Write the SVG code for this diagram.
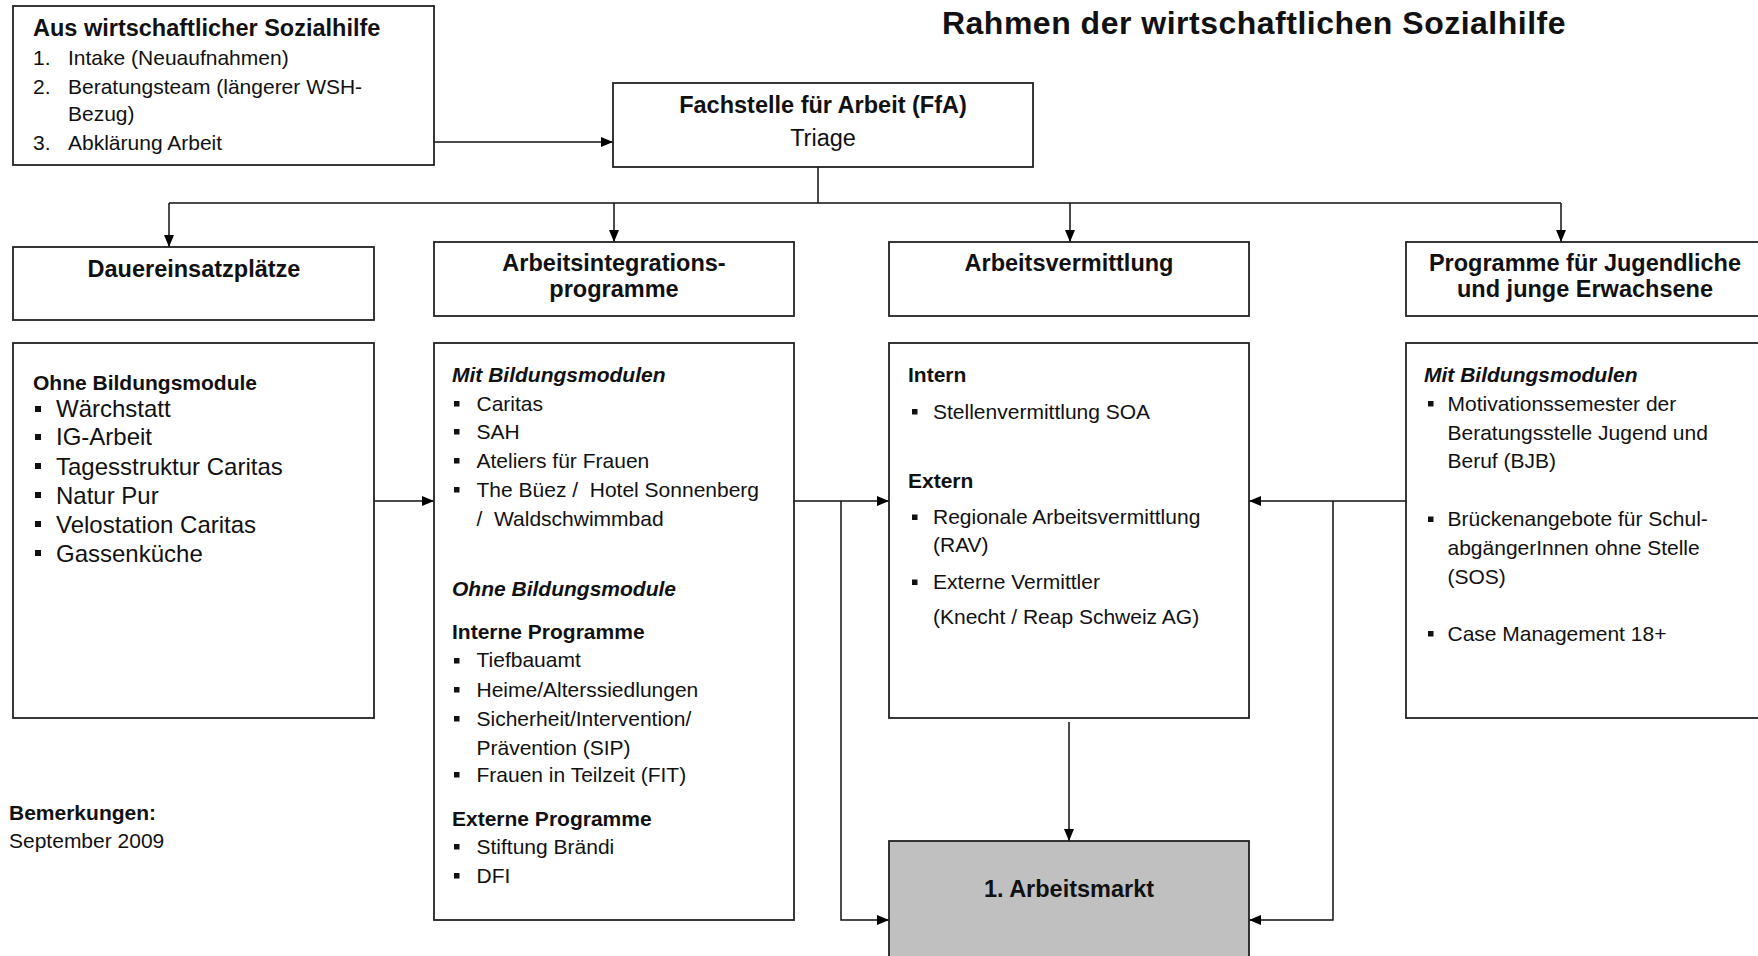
<svg xmlns="http://www.w3.org/2000/svg" width="1758" height="956" viewBox="0 0 1758 956">
<defs>
<marker id="arr" markerUnits="userSpaceOnUse" markerWidth="12" markerHeight="10" refX="12" refY="5" orient="auto">
<path d="M0,0 L12,5 L0,10 z" fill="#000"/>
</marker>
<style>
text{font-family:"Liberation Sans",Arial,sans-serif;fill:#111}
.box{fill:#fff;stroke:#222;stroke-width:1.8}
.grey{fill:#c0c0c0;stroke:#222;stroke-width:1.8}
.conn{fill:none;stroke:#111;stroke-width:1.5;marker-end:url(#arr)}
.line{fill:none;stroke:#111;stroke-width:1.5}
.h{font-weight:bold;font-size:23.5px;text-anchor:middle}
.b{font-weight:bold;font-size:21px}
.bi{font-weight:bold;font-style:italic;font-size:21px}
.t{font-size:21px}
.tl{font-size:24px}
.bul{fill:#111}
</style>
</defs>

<text id="title" x="1254" y="34" style="font-weight:bold;font-size:32px;text-anchor:middle;letter-spacing:0.5px">Rahmen der wirtschaftlichen Sozialhilfe</text>

<g id="connectors">
<path class="conn" d="M434,142 H613"/>
<path class="line" d="M818,167 V203 M169,203 H1561"/>
<path class="conn" d="M169,203 V247"/>
<path class="conn" d="M614,203 V242"/>
<path class="conn" d="M1070,203 V242"/>
<path class="conn" d="M1561,203 V242"/>
<path class="conn" d="M374,501 H434"/>
<path class="conn" d="M794,501 H889"/>
<path class="conn" d="M841,501 V920 H889"/>
<path class="conn" d="M1406,501 H1249"/>
<path class="conn" d="M1333,501 V920 H1249"/>
<path class="conn" d="M1069,722 V841"/>
</g>

<g id="sozialhilfe">
<rect class="box" x="13" y="6" width="421" height="159"/>
<text x="33" y="35.5" style="font-weight:bold;font-size:23.5px">Aus wirtschaftlicher Sozialhilfe</text>
<text class="t" x="33" y="64.7">1.</text><text class="t" x="68" y="64.7">Intake (Neuaufnahmen)</text>
<text class="t" x="33" y="93.8">2.</text><text class="t" x="68" y="93.8">Beratungsteam (längerer WSH-</text>
<text class="t" x="68" y="120.7">Bezug)</text>
<text class="t" x="33" y="149.9">3.</text><text class="t" x="68" y="149.9">Abklärung Arbeit</text>
</g>

<g id="ffa">
<rect class="box" x="613" y="83" width="420" height="84"/>
<text class="h" x="823" y="113">Fachstelle für Arbeit (FfA)</text>
<text x="823" y="146" style="font-size:23.5px;text-anchor:middle">Triage</text>
</g>

<g id="dauer-head">
<rect class="box" x="13" y="247" width="361" height="73"/>
<text class="h" x="194" y="277">Dauereinsatzplätze</text>
</g>

<g id="aip-head">
<rect class="box" x="434" y="242" width="360" height="74"/>
<text class="h" x="614" y="271">Arbeitsintegrations-</text>
<text class="h" x="614" y="297">programme</text>
</g>

<g id="av-head">
<rect class="box" x="889" y="242" width="360" height="74"/>
<text class="h" x="1069" y="271">Arbeitsvermittlung</text>
</g>

<g id="jug-head">
<rect class="box" x="1406" y="242" width="400" height="74"/>
<text class="h" x="1585" y="271">Programme für Jugendliche</text>
<text class="h" x="1585" y="297">und junge Erwachsene</text>
</g>

<g id="dauer">
<rect class="box" x="13" y="343" width="361" height="375"/>
<text class="b" x="33" y="390">Ohne Bildungsmodule</text>
<rect class="bul" x="35" y="406" width="6" height="6"/><text class="tl" x="56" y="417">Wärchstatt</text>
<rect class="bul" x="35" y="434" width="6" height="6"/><text class="tl" x="56" y="445">IG-Arbeit</text>
<rect class="bul" x="35" y="463" width="6" height="6"/><text class="tl" x="56" y="474.5">Tagesstruktur Caritas</text>
<rect class="bul" x="35" y="492" width="6" height="6"/><text class="tl" x="56" y="503.5">Natur Pur</text>
<rect class="bul" x="35" y="521" width="6" height="6"/><text class="tl" x="56" y="533">Velostation Caritas</text>
<rect class="bul" x="35" y="550" width="6" height="6"/><text class="tl" x="56" y="562">Gassenküche</text>
</g>

<g id="aip">
<rect class="box" x="434" y="343" width="360" height="577"/>
<text class="bi" x="452" y="381.5">Mit Bildungsmodulen</text>
<rect class="bul" x="454" y="401" width="5.5" height="5.5"/><text class="t" x="476.5" y="410.6">Caritas</text>
<rect class="bul" x="454" y="429" width="5.5" height="5.5"/><text class="t" x="476.5" y="438.7">SAH</text>
<rect class="bul" x="454" y="458" width="5.5" height="5.5"/><text class="t" x="476.5" y="467.8">Ateliers für Frauen</text>
<rect class="bul" x="454" y="487" width="5.5" height="5.5"/><text class="t" x="476.5" y="497" xml:space="preserve">The Büez /  Hotel Sonnenberg</text>
<text class="t" x="476.5" y="526" xml:space="preserve">/  Waldschwimmbad</text>
<text class="bi" x="452" y="595.6">Ohne Bildungsmodule</text>
<text class="b" x="452" y="639.4">Interne Programme</text>
<rect class="bul" x="454" y="658" width="5.5" height="5.5"/><text class="t" x="476.5" y="667.4">Tiefbauamt</text>
<rect class="bul" x="454" y="687" width="5.5" height="5.5"/><text class="t" x="476.5" y="696.5">Heime/Alterssiedlungen</text>
<rect class="bul" x="454" y="716" width="5.5" height="5.5"/><text class="t" x="476.5" y="725.7">Sicherheit/Intervention/</text>
<text class="t" x="476.5" y="754.8">Prävention (SIP)</text>
<rect class="bul" x="454" y="772" width="5.5" height="5.5"/><text class="t" x="476.5" y="781.7">Frauen in Teilzeit (FIT)</text>
<text class="b" x="452" y="825.5">Externe Programme</text>
<rect class="bul" x="454" y="844" width="5.5" height="5.5"/><text class="t" x="476.5" y="853.5">Stiftung Brändi</text>
<rect class="bul" x="454" y="873" width="5.5" height="5.5"/><text class="t" x="476.5" y="882.7">DFI</text>
</g>

<g id="av">
<rect class="box" x="889" y="343" width="360" height="375"/>
<text class="b" x="908" y="381.5">Intern</text>
<rect class="bul" x="912" y="409" width="5.5" height="5.5"/><text class="t" x="933" y="418.5">Stellenvermittlung SOA</text>
<text class="b" x="908" y="488">Extern</text>
<rect class="bul" x="912" y="514.5" width="5.5" height="5.5"/><text class="t" x="933" y="524">Regionale Arbeitsvermittlung</text>
<text class="t" x="933" y="552">(RAV)</text>
<rect class="bul" x="912" y="579.5" width="5.5" height="5.5"/><text class="t" x="933" y="589">Externe Vermittler</text>
<text class="t" x="933" y="624">(Knecht / Reap Schweiz AG)</text>
</g>

<g id="jug">
<rect class="box" x="1406" y="343" width="400" height="375"/>
<text class="bi" x="1424" y="381.5">Mit Bildungsmodulen</text>
<rect class="bul" x="1428" y="401" width="5.5" height="5.5"/><text class="t" x="1447.5" y="410.6">Motivationssemester der</text>
<text class="t" x="1447.5" y="439.8">Beratungsstelle Jugend und</text>
<text class="t" x="1447.5" y="467.8">Beruf (BJB)</text>
<rect class="bul" x="1428" y="516.5" width="5.5" height="5.5"/><text class="t" x="1447.5" y="526">Brückenangebote für Schul-</text>
<text class="t" x="1447.5" y="555">abgängerInnen ohne Stelle</text>
<text class="t" x="1447.5" y="584.4">(SOS)</text>
<rect class="bul" x="1428" y="631" width="5.5" height="5.5"/><text class="t" x="1447.5" y="640.5">Case Management 18+</text>
</g>

<g id="arbeitsmarkt">
<rect class="grey" x="889" y="841" width="360" height="130"/>
<text class="h" x="1069" y="897">1. Arbeitsmarkt</text>
</g>

<g id="bemerkungen">
<text class="b" x="9" y="820">Bemerkungen:</text>
<text class="t" x="9" y="848">September 2009</text>
</g>
</svg>
